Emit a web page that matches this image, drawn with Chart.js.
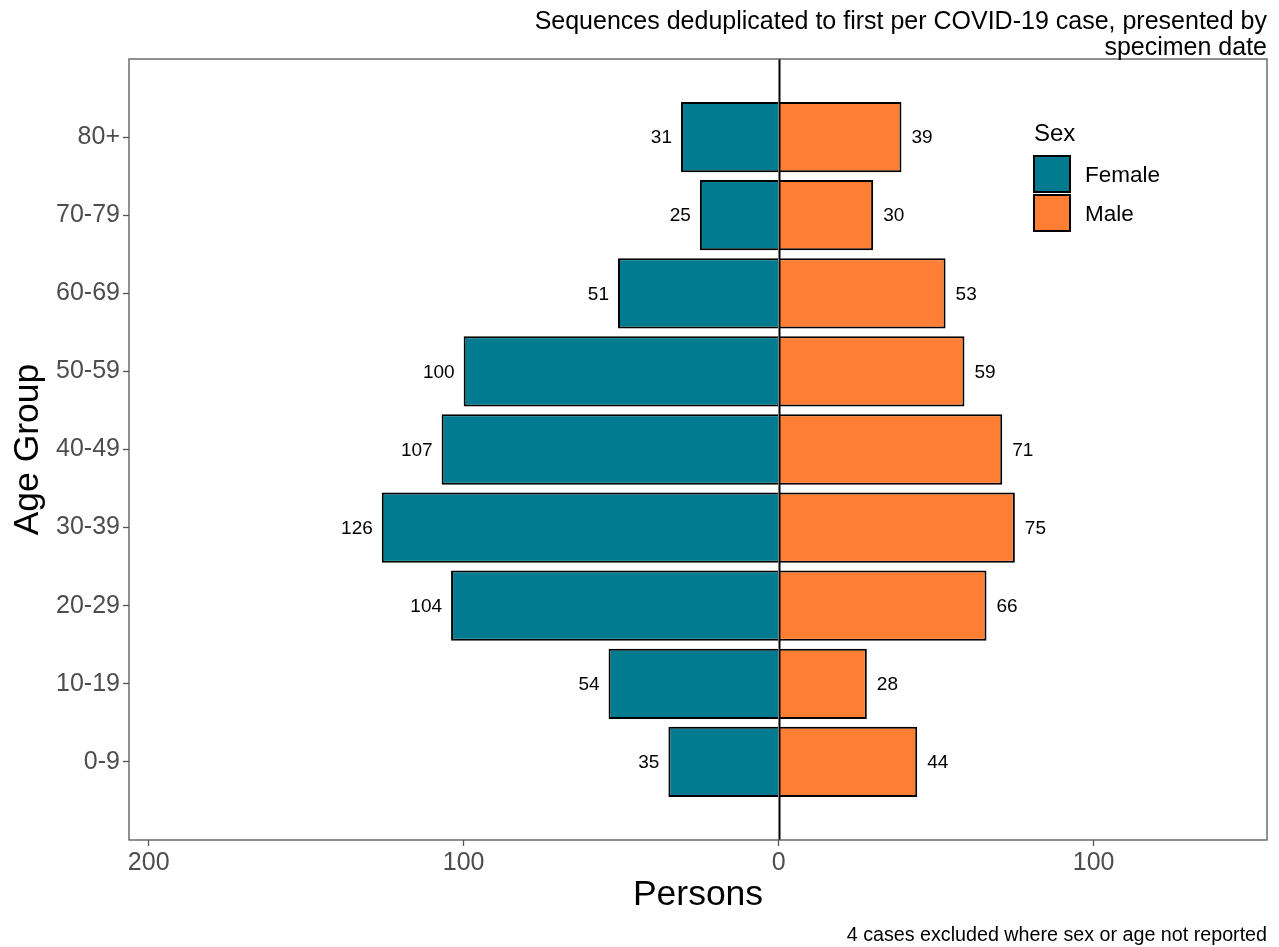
<!DOCTYPE html>
<html>
<head>
<meta charset="utf-8">
<script src="https://cdn.jsdelivr.net/npm/chart.js@4.4.0/dist/chart.umd.min.js"></script>
<style>
  html, body { margin: 0; padding: 0; background: #fff; }
  canvas { display: block; }
</style>
</head>
<body>
<canvas id="pyramid" width="1279" height="947"></canvas>
<script>
const ageGroups = ["80+", "70-79", "60-69", "50-59", "40-49", "30-39", "20-29", "10-19", "0-9"];
const femaleCounts = [31, 25, 51, 100, 107, 126, 104, 54, 35];
const maleCounts = [39, 30, 53, 59, 71, 75, 66, 28, 44];
const xTickValues = [-200, -100, 0, 100];

const FONT = "'Liberation Sans', Arial, sans-serif";
const TEAL = "#007B8F";
const ORANGE = "#FE7F33";

// empty slots top and bottom give the ggplot-style padding around the bands
const labels = ["", ...ageGroups, ""];
const pad = (arr) => [null, ...arr, null];

const extras = {
  id: "extras",
  afterDatasetsDraw(chart) {
    const ctx = chart.ctx;
    const area = chart.chartArea;
    const x = chart.scales.x;

    // value labels next to bar ends
    ctx.save();
    ctx.fillStyle = "#000";
    ctx.font = "19px " + FONT;
    ctx.textBaseline = "middle";
    chart.data.datasets.forEach((ds, i) => {
      chart.getDatasetMeta(i).data.forEach((bar, j) => {
        const v = ds.data[j];
        if (v == null) return;
        if (v < 0) {
          ctx.textAlign = "right";
          ctx.fillText(String(-v), bar.x - 9, bar.y + 1);
        } else {
          ctx.textAlign = "left";
          ctx.fillText(String(v), bar.x + 10, bar.y + 1);
        }
      });
    });

    // zero line
    const x0 = Math.round(x.getPixelForValue(0)) + 0.5;
    ctx.strokeStyle = "#000";
    ctx.lineWidth = 2;
    ctx.beginPath();
    ctx.moveTo(x0, area.top);
    ctx.lineTo(x0, area.bottom);
    ctx.stroke();

    // panel border
    ctx.strokeStyle = "#555";
    ctx.lineWidth = 1.3;
    ctx.strokeRect(area.left, area.top, area.right - area.left, area.bottom - area.top);

    // legend
    ctx.textAlign = "left";
    ctx.textBaseline = "alphabetic";
    ctx.font = "24px " + FONT;
    ctx.fillText("Sex", 1034, 141);
    const keys = [["Female", TEAL, 156], ["Male", ORANGE, 195]];
    keys.forEach(([name, col, top]) => {
      ctx.fillStyle = col;
      ctx.fillRect(1034, top, 36, 36);
      ctx.strokeStyle = "#000";
      ctx.lineWidth = 2;
      ctx.strokeRect(1034, top, 36, 36);
      ctx.fillStyle = "#000";
      ctx.font = "22.5px " + FONT;
      ctx.textBaseline = "middle";
      ctx.fillText(name, 1085, top + 20);
    });

    // title and caption
    ctx.textAlign = "right";
    ctx.textBaseline = "alphabetic";
    ctx.font = "25px " + FONT;
    ctx.fillText("Sequences deduplicated to first per COVID-19 case, presented by", area.right, 29);
    ctx.fillText("specimen date", area.right, 55);
    ctx.font = "19.7px " + FONT;
    ctx.fillText("4 cases excluded where sex or age not reported", area.right, 941);

    // axis titles
    ctx.textAlign = "center";
    ctx.font = "35.5px " + FONT;
    ctx.fillText("Persons", (area.left + area.right) / 2, 905);
    ctx.translate(37.5, (area.top + area.bottom) / 2);
    ctx.rotate(-Math.PI / 2);
    ctx.fillText("Age Group", 0, 0);
    ctx.restore();
  }
};

const tickCol = (c) => (c.tick && c.tick.label === "" ? "rgba(0,0,0,0)" : "#555");

new Chart(document.getElementById("pyramid"), {
  type: "bar",
  data: {
    labels: labels,
    datasets: [
      {
        label: "Female",
        data: pad(femaleCounts.map((v) => -v)),
        backgroundColor: TEAL,
        borderColor: "#000",
        borderWidth: 2,
        barPercentage: 0.9,
        categoryPercentage: 1,
      },
      {
        label: "Male",
        data: pad(maleCounts),
        backgroundColor: ORANGE,
        borderColor: "#000",
        borderWidth: 2,
        barPercentage: 0.9,
        categoryPercentage: 1,
      },
    ],
  },
  options: {
    indexAxis: "y",
    responsive: false,
    animation: false,
    devicePixelRatio: 1,
    layout: { padding: { left: 0, right: 12, top: 59, bottom: 0 } },
    plugins: { legend: { display: false }, tooltip: { enabled: false } },
    scales: {
      x: {
        type: "linear",
        stacked: true,
        min: -206.25,
        max: 155.05,
        afterBuildTicks: (s) => { s.ticks = xTickValues.map((v) => ({ value: v })); },
        afterFit: (s) => { s.height = 107; },
        ticks: {
          callback: (v) => String(Math.abs(v)),
          font: { family: FONT, size: 25 },
          color: "#4D4D4D",
          padding: 2,
          maxRotation: 0,
        },
        grid: { drawOnChartArea: false, drawTicks: true, tickLength: 6, tickColor: "#555", tickWidth: 1.3 },
        border: { display: false },
      },
      y: {
        type: "category",
        stacked: true,
        offset: false,
        afterFit: (s) => { s.width = 129; },
        ticks: {
          autoSkip: false,
          font: { family: FONT, size: 25 },
          color: "#4D4D4D",
          padding: 3,
        },
        grid: { offset: false, drawOnChartArea: false, drawTicks: true, tickLength: 6, tickColor: tickCol, tickWidth: 1.3 },
        border: { display: false },
      },
    },
  },
  plugins: [extras],
});
</script>
</body>
</html>
